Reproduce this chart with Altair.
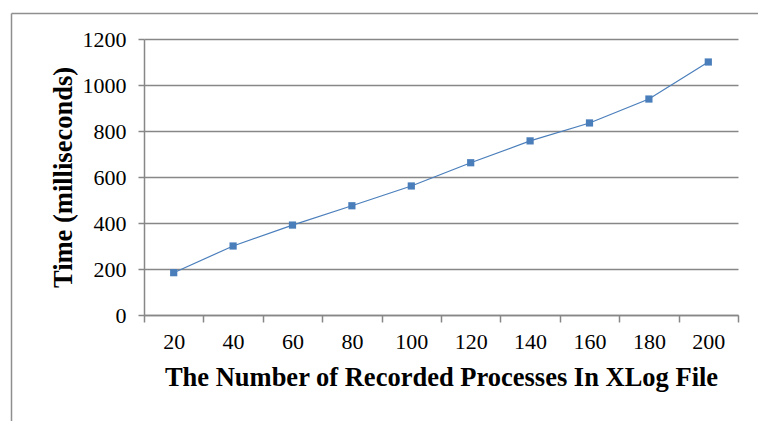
import altair as alt
import pandas as pd

# Number of recorded processes in the XLog file, and processing time (ms)
processes = [20, 40, 60, 80, 100, 120, 140, 160, 180, 200]
time_ms = [184, 300, 391, 475, 561, 662, 757, 835, 939, 1100]
y_ticks = [0, 200, 400, 600, 800, 1000, 1200]

df = pd.DataFrame({"processes": processes, "time": time_ms})

FONT = "Liberation Serif"
GRID = "#878787"
BLUE = "#4A7EBB"

W, H = 594, 276
PAD_L, PAD_T = 144, 39

base = alt.Chart(df)

x_enc = alt.X(
    "processes:O",
    sort=processes,
    scale=alt.Scale(paddingInner=0, paddingOuter=0),
    axis=alt.Axis(
        title="The Number of Recorded Processes In XLog File",
        labelAngle=0,
        tickBand="extent",
        tickSize=7,
        labelPadding=9,
        titleBaseline="alphabetic",
        titleY=70,
        grid=False,
    ),
)
y_enc = alt.Y(
    "time:Q",
    scale=alt.Scale(domain=[0, 1200], nice=False),
    axis=alt.Axis(
        title="Time  (milliseconds)",
        values=y_ticks,
        format="d",
        tickSize=6,
        labelPadding=12,
        titleAngle=270,
        titleBaseline="alphabetic",
        titleX=-73,
        titleY=H / 2,
        titleAlign="center",
        grid=True,
    ),
)

line = base.mark_line(color=BLUE, strokeWidth=1.2).encode(x=x_enc, y=y_enc)
points = base.mark_square(color=BLUE, size=52, opacity=1).encode(x=x_enc, y=y_enc)

# Outer chart frame (top and left edges)
frame_df = pd.DataFrame({"k": [0]})
frame_top = alt.Chart(frame_df).mark_rule(color="#8f8f8f", strokeWidth=1.5).encode(
    x=alt.value(-132.5), x2=alt.value(758 - PAD_L), y=alt.value(-25.5)
)
frame_left = alt.Chart(frame_df).mark_rule(color="#8f8f8f", strokeWidth=1.5).encode(
    x=alt.value(-132.5), y=alt.value(-25.5), y2=alt.value(421 - PAD_T)
)

chart = (
    alt.layer(line, points, frame_top, frame_left)
    .properties(
        width=W,
        height=H,
        autosize=alt.AutoSizeParams(type="none"),
        padding={"left": PAD_L, "top": PAD_T, "right": 758 - PAD_L - W, "bottom": 421 - PAD_T - H},
        background="white",
    )
    .configure_view(stroke=None)
    .configure_axis(
        labelFont=FONT,
        labelFontSize=22,
        labelColor="black",
        titleFont=FONT,
        titleFontSize=26.5,
        titleFontWeight="bold",
        titleColor="black",
        domainColor=GRID,
        domainWidth=1.5,
        tickColor=GRID,
        tickWidth=1.5,
        gridColor=GRID,
        gridWidth=1.5,
        gridOpacity=1,
    )
)

chart.save("out.html", embed_options={"renderer": "svg", "actions": False})
